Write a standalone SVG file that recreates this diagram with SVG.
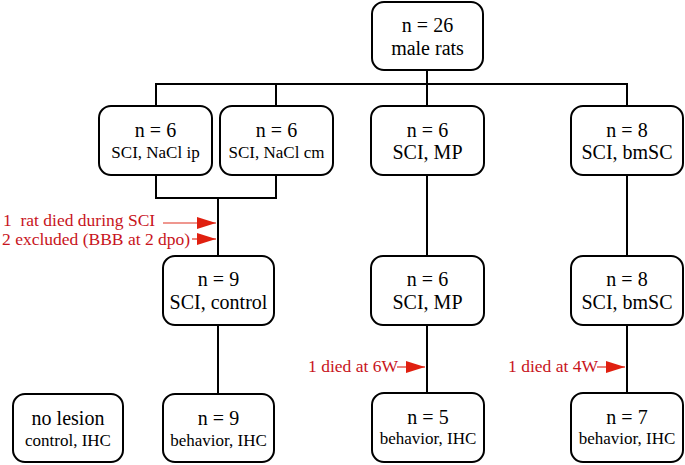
<svg xmlns="http://www.w3.org/2000/svg" width="685" height="465" viewBox="0 0 685 465">
<style>
.box{fill:#fff;stroke:#000;stroke-width:2}
.t{font-family:"Liberation Serif","Times New Roman",serif;fill:#000;text-anchor:middle}
.big{font-size:20px}
.sm{font-size:17px}
.ln{stroke:#000;stroke-width:2;fill:none}
.red{font-family:"Liberation Serif","Times New Roman",serif;fill:#c8141c;font-size:17.5px}
.ra{stroke:#e03020;stroke-width:1.2;fill:none}
</style>
<defs>
<marker id="ah" viewBox="0 0 10 10" refX="10" refY="5" markerWidth="19" markerHeight="12" markerUnits="userSpaceOnUse" orient="auto" preserveAspectRatio="none">
<path d="M0,0 L10,5 L0,10 z" fill="#e02010"/>
</marker>
</defs>
<g id="connectors">
<path class="ln" d="M155,84 H628"/>
<path class="ln" d="M427,71 V106"/>
<path class="ln" d="M156,84 V106 M276,84 V106 M627,84 V106"/>
<path class="ln" d="M156,175 V198 H276 V175 M218,198 V256"/>
<path class="ln" d="M427,175 V256 M627,175 V256"/>
<path class="ln" d="M218,325 V394 M427,325 V393 M627,325 V393"/>
<path class="ra" stroke="#f0b0a8" d="M163,223 H216" marker-end="url(#ah)"/>
<path class="ra" d="M192,239 H216" marker-end="url(#ah)"/>
<path class="ra" d="M397,367 H425" marker-end="url(#ah)"/>
<path class="ra" d="M597,367 H625" marker-end="url(#ah)"/>
</g>
<g id="labels">
<text class="red" x="3" y="226" xml:space="preserve">1  rat died during SCI</text>
<text class="red" x="2" y="245">2 excluded (BBB at 2 dpo)</text>
<text class="red" x="308" y="372">1 died at 6W</text>
<text class="red" x="508" y="372">1 died at 4W</text>
</g>
<g id="n26">
<rect class="box" x="372" y="2" width="111" height="68" rx="12"/>
<text class="t big" x="427.5" y="32">n = 26</text>
<text class="t big" x="427.5" y="55">male rats</text>
</g>
<g id="nacl-ip">
<rect class="box" x="99" y="106" width="113" height="69" rx="12"/>
<text class="t big" x="155.5" y="137">n = 6</text>
<text class="t sm" x="155.5" y="158">SCI, NaCl ip</text>
</g>
<g id="nacl-cm">
<rect class="box" x="220" y="106" width="113" height="69" rx="12"/>
<text class="t big" x="276.5" y="137">n = 6</text>
<text class="t sm" x="276.5" y="158">SCI, NaCl cm</text>
</g>
<g id="mp1">
<rect class="box" x="371" y="106" width="113" height="69" rx="12"/>
<text class="t big" x="427.5" y="137">n = 6</text>
<text class="t big" x="427.5" y="159">SCI, MP</text>
</g>
<g id="bmsc1">
<rect class="box" x="571" y="106" width="112" height="69" rx="12"/>
<text class="t big" x="627" y="137">n = 8</text>
<text class="t big" x="627" y="159">SCI, bmSC</text>
</g>
<g id="control">
<rect class="box" x="163" y="256" width="111" height="69" rx="12"/>
<text class="t big" x="218.5" y="286">n = 9</text>
<text class="t big" x="218.5" y="309">SCI, control</text>
</g>
<g id="mp2">
<rect class="box" x="371" y="256" width="113" height="69" rx="12"/>
<text class="t big" x="427.5" y="286">n = 6</text>
<text class="t big" x="427.5" y="309">SCI, MP</text>
</g>
<g id="bmsc2">
<rect class="box" x="571" y="256" width="112" height="69" rx="12"/>
<text class="t big" x="627" y="286">n = 8</text>
<text class="t big" x="627" y="309">SCI, bmSC</text>
</g>
<g id="nolesion">
<rect class="box" x="13" y="394" width="110" height="68" rx="12"/>
<text class="t big" x="68" y="425">no lesion</text>
<text class="t sm" x="68" y="446">control, IHC</text>
</g>
<g id="ctrl-beh">
<rect class="box" x="163" y="394" width="111" height="68" rx="12"/>
<text class="t big" x="218.5" y="425">n = 9</text>
<text class="t sm" x="218.5" y="446">behavior, IHC</text>
</g>
<g id="mp-beh">
<rect class="box" x="372" y="393" width="112" height="69" rx="12"/>
<text class="t big" x="428" y="424">n = 5</text>
<text class="t sm" x="428" y="444">behavior, IHC</text>
</g>
<g id="bmsc-beh">
<rect class="box" x="571" y="393" width="112" height="69" rx="12"/>
<text class="t big" x="627" y="424">n = 7</text>
<text class="t sm" x="627" y="444">behavior, IHC</text>
</g>
</svg>
